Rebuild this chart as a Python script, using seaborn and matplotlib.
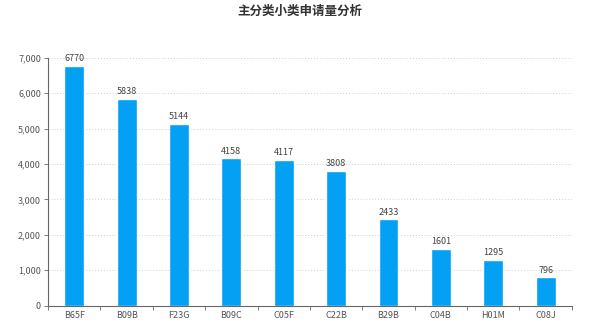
import matplotlib
matplotlib.use("Agg")
import matplotlib.pyplot as plt
import seaborn as sns
import pandas as pd
import numpy as np
from matplotlib.ticker import FuncFormatter, FixedLocator

categories = ["B65F", "B09B", "F23G", "B09C", "C05F", "C22B", "B29B", "C04B", "H01M", "C08J"]
values = [6770, 5838, 5144, 4158, 4117, 3808, 2433, 1601, 1295, 796]
title = "主分类小类申请量分析"
yticks = [0, 1000, 2000, 3000, 4000, 5000, 6000, 7000]

sns.set_theme(style="white")
plt.rcParams['font.family'] = ['Noto Sans CJK SC', 'DejaVu Sans']

df = pd.DataFrame({"cat": categories, "val": values})

fig = plt.figure(figsize=(6.0, 3.31), dpi=100)
ax = fig.add_axes([0.08, 0.077, 0.873, 0.748])
sns.barplot(data=df, x="cat", y="val", color="#03a0f4", width=0.38, saturation=1, ax=ax)

ax.set_ylim(0, 7000)
ax.set_xlim(-0.5, len(categories) - 0.5)
ax.set_yticks(yticks)
ax.yaxis.set_major_formatter(FuncFormatter(lambda v, p: f"{int(v):,}"))
ax.set_xlabel("")
ax.set_ylabel("")
for y in yticks[1:]:
    ax.axhline(y, color="#d0d0d0", lw=0.7, ls=(0, (1, 2)), zorder=0)

for i, v in enumerate(values):
    ax.text(i, v + 80, str(v), ha="center", va="bottom", fontsize=6.5, color="#444444")

for s in ["top", "right"]:
    ax.spines[s].set_visible(False)
for s in ["left", "bottom"]:
    ax.spines[s].set_color("#666666")
    ax.spines[s].set_linewidth(0.8)

ax.tick_params(axis="y", which="major", length=3, width=0.6, color="#666666", labelsize=6.5, labelcolor="#555555", pad=2, left=True)
ax.tick_params(axis="x", which="major", length=0, labelsize=6.5, labelcolor="#555555", pad=4)
ax.xaxis.set_minor_locator(FixedLocator(np.arange(-0.5, len(categories), 1.0)))
ax.tick_params(axis="x", which="minor", length=3, width=0.6, color="#666666", bottom=True)

fig.suptitle(title, x=0.5, y=0.985, fontsize=9, fontweight="bold", color="#333333")

fig.savefig("out.png", dpi=100)
